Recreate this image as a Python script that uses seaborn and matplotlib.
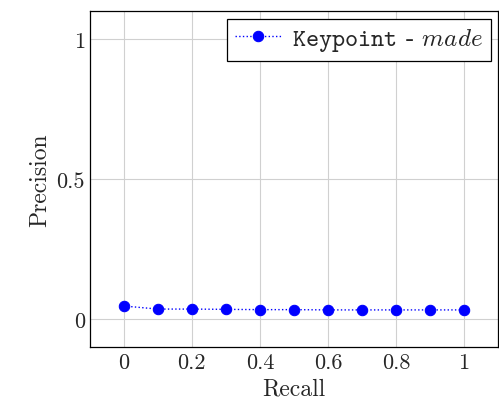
import numpy as np
import pandas as pd
import seaborn as sns
import matplotlib.pyplot as plt

# Precision / recall values
recall = [0.0, 0.1, 0.2, 0.3, 0.4, 0.5, 0.6, 0.7, 0.8, 0.9, 1.0]
precision = [0.047, 0.036, 0.036, 0.035, 0.034, 0.034, 0.033, 0.033, 0.033, 0.033, 0.033]
x_ticks = [0, 0.2, 0.4, 0.6, 0.8, 1]
y_ticks = [0, 0.5, 1]

df = pd.DataFrame({"recall": recall, "precision": precision})

sns.set_style("white")
plt.rcParams['font.family'] = ['cmr10']
plt.rcParams['mathtext.fontset'] = 'cm'
plt.rcParams['axes.formatter.use_mathtext'] = True

fig = plt.figure(figsize=(4.99, 4.14), dpi=100)
ax = fig.add_axes([0.180, 0.159, 0.818, 0.812])

sns.lineplot(data=df, x="recall", y="precision", ax=ax, color="blue",
             linestyle=":", marker="o", markersize=7.5, markeredgecolor="blue",
             linewidth=1, label=r"$\mathtt{Keypoint}$ - $made$")

ax.set_xlim(-0.1, 1.1)
ax.set_ylim(-0.1, 1.1)
ax.set_xticks(x_ticks)
ax.set_yticks(y_ticks)
ax.set_xticklabels(["0", "0.2", "0.4", "0.6", "0.8", "1"])
ax.set_yticklabels(["0", "0.5", "1"])
ax.grid(True, color="#d0d0d0", linewidth=0.8)
ax.tick_params(direction="in", length=4, labelsize=16, color="black")
for s in ax.spines.values():
    s.set_color("black")
    s.set_linewidth(0.9)
ax.set_xlabel("Recall", fontsize=17)
ax.set_ylabel("Precision", fontsize=17)

leg = ax.legend(loc="upper right", fontsize=18, frameon=True, fancybox=False,
                edgecolor="black", framealpha=1, handlelength=1.9,
                handletextpad=0.4, borderaxespad=0.3, borderpad=0.3)
leg.get_frame().set_linewidth(0.9)

fig.savefig("out.png", dpi=100)
